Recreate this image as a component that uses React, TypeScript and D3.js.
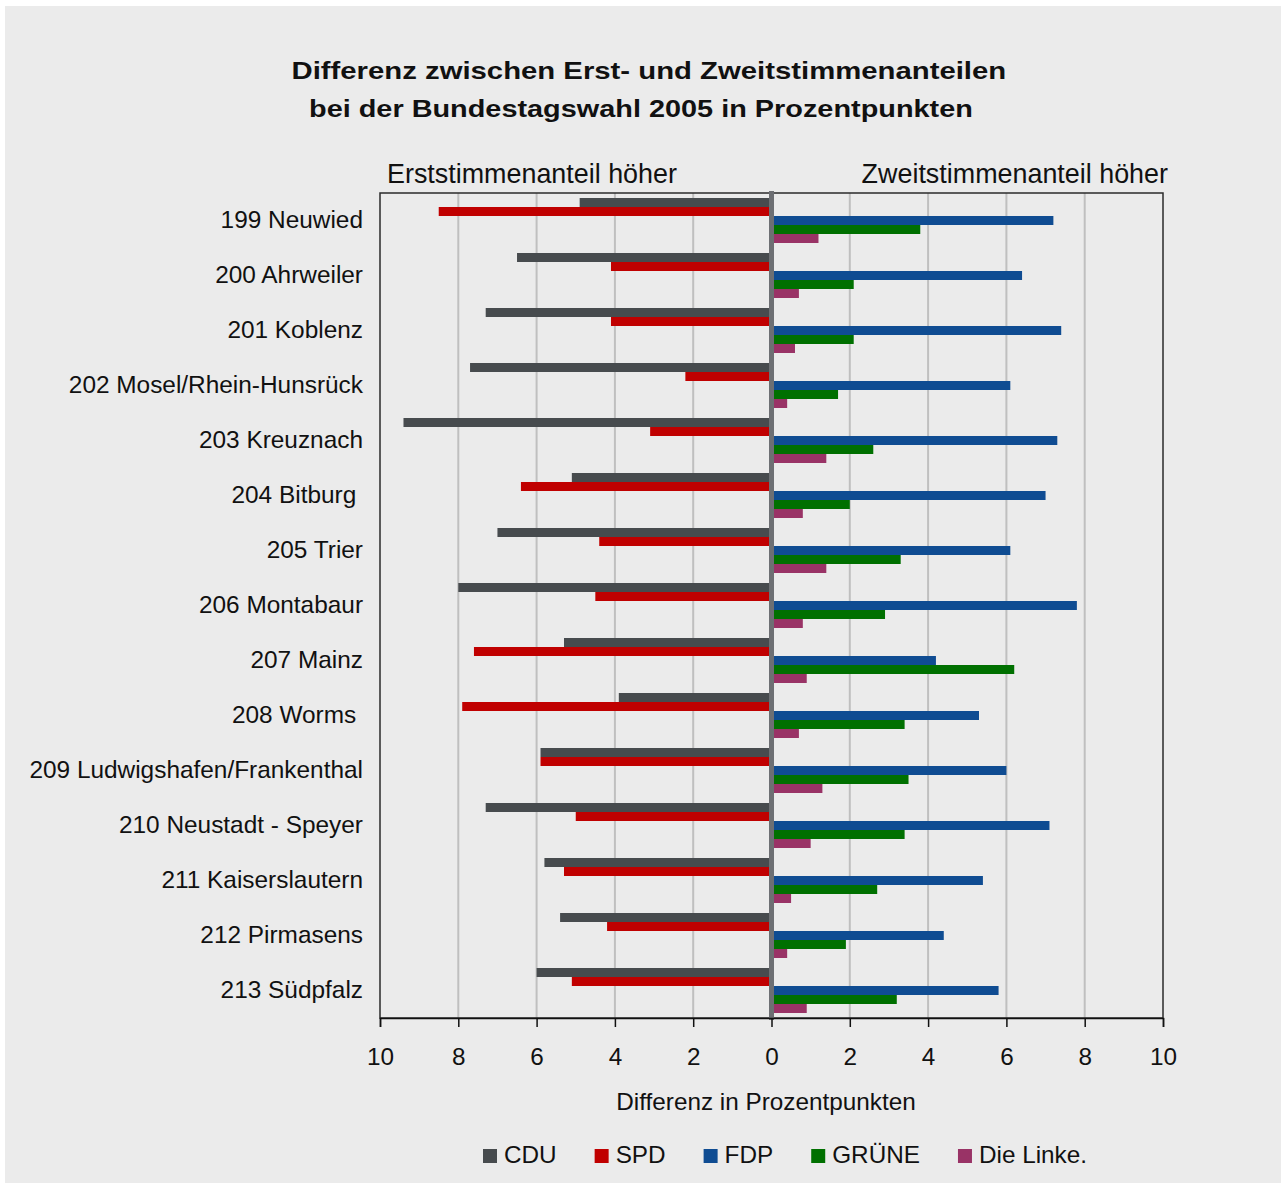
import React, { useEffect, useRef } from "react";
import * as d3 from "d3";

const districts = [
  "199 Neuwied",
  "200 Ahrweiler",
  "201 Koblenz",
  "202 Mosel/Rhein-Hunsrück",
  "203 Kreuznach",
  "204 Bitburg ",
  "205 Trier",
  "206 Montabaur",
  "207 Mainz",
  "208 Worms ",
  "209 Ludwigshafen/Frankenthal",
  "210 Neustadt - Speyer",
  "211 Kaiserslautern",
  "212 Pirmasens",
  "213 Südpfalz",
];

const parties = ["CDU", "SPD", "FDP", "GRÜNE", "Die Linke."];
const partyColors = ["#474b4e", "#c00000", "#0f4c92", "#007000", "#993366"];

// negative = Erststimmenanteil höher, positive = Zweitstimmenanteil höher
const cdu = [-4.9, -6.5, -7.3, -7.7, -9.4, -5.1, -7.0, -8.0, -5.3, -3.9, -5.9, -7.3, -5.8, -5.4, -6.0];
const spd = [-8.5, -4.1, -4.1, -2.2, -3.1, -6.4, -4.4, -4.5, -7.6, -7.9, -5.9, -5.0, -5.3, -4.2, -5.1];
const fdp = [7.2, 6.4, 7.4, 6.1, 7.3, 7.0, 6.1, 7.8, 4.2, 5.3, 6.0, 7.1, 5.4, 4.4, 5.8];
const gruene = [3.8, 2.1, 2.1, 1.7, 2.6, 2.0, 3.3, 2.9, 6.2, 3.4, 3.5, 3.4, 2.7, 1.9, 3.2];
const linke = [1.2, 0.7, 0.6, 0.4, 1.4, 0.8, 1.4, 0.8, 0.9, 0.7, 1.3, 1.0, 0.5, 0.4, 0.9];

const seriesValues = [cdu, spd, fdp, gruene, linke];
const xTicks = [-10, -8, -6, -4, -2, 0, 2, 4, 6, 8, 10];

const titleLines = [
  "Differenz zwischen Erst- und Zweitstimmenanteilen",
  "bei der Bundestagswahl 2005 in Prozentpunkten",
];

const FONT = "'Liberation Sans', Arial, Helvetica, sans-serif";

export default function App() {
  const ref = useRef<SVGSVGElement | null>(null);

  useEffect(() => {
    const svg = d3.select(ref.current);
    svg.selectAll("*").remove();

    const W = 1286;
    const H = 1187;
    const left = 380;
    const right = 1163;
    const top = 193;
    const bottom = 1018;

    svg.append("rect").attr("x", 0).attr("y", 0).attr("width", W).attr("height", H).attr("fill", "#ffffff");
    svg.append("rect").attr("x", 5).attr("y", 6).attr("width", 1276).attr("height", 1177).attr("fill", "#ebebeb");

    const x = d3.scaleLinear().domain([-10, 10]).range([left, right]);
    const y = d3.scaleBand<string>().domain(districts).range([top, bottom]).paddingInner(10 / 55).paddingOuter(5 / 55);
    const ys = d3.scaleBand<string>().domain(parties).range([0, y.bandwidth()]);

    // title (horizontally stretched like the original)
    const tpos = [
      { x: 291.5, y: 78.5, len: 715 },
      { x: 309, y: 116.5, len: 664 },
    ];
    titleLines.forEach((t, i) => {
      const el = svg
        .append("text")
        .attr("x", 0)
        .attr("y", 0)
        .attr("font-family", FONT)
        .attr("font-weight", "bold")
        .attr("font-size", 24.5)
        .attr("fill", "#111")
        .text(t);
      const w = (el.node() as SVGTextElement).getComputedTextLength();
      const sx = w > 0 ? tpos[i].len / w : 1;
      el.attr("transform", `translate(${tpos[i].x},${tpos[i].y}) scale(${sx},1)`);
    });

    // headers
    svg
      .append("text")
      .attr("x", 387)
      .attr("y", 182.5)
      .attr("font-family", FONT)
      .attr("font-size", 26.9)
      .attr("fill", "#111")
      .text("Erststimmenanteil höher");
    svg
      .append("text")
      .attr("x", 1168)
      .attr("y", 182.5)
      .attr("text-anchor", "end")
      .attr("font-family", FONT)
      .attr("font-size", 26.9)
      .attr("fill", "#111")
      .text("Zweitstimmenanteil höher");

    // gridlines
    svg
      .append("g")
      .selectAll("line")
      .data(xTicks.filter((t) => t !== 0 && Math.abs(t) !== 10))
      .join("line")
      .attr("x1", (d) => x(d))
      .attr("x2", (d) => x(d))
      .attr("y1", top)
      .attr("y2", bottom)
      .attr("stroke", "#bfbfbf")
      .attr("stroke-width", 2);

    // frame
    svg
      .append("rect")
      .attr("x", left)
      .attr("y", top)
      .attr("width", right - left)
      .attr("height", bottom - top)
      .attr("fill", "none")
      .attr("stroke", "#2b2b2b")
      .attr("stroke-width", 1.5);

    // bars
    const g = svg.append("g");
    seriesValues.forEach((vals, si) => {
      g.append("g")
        .attr("fill", partyColors[si])
        .selectAll("rect")
        .data(vals.map((v, i) => ({ v, d: districts[i] })))
        .join("rect")
        .attr("x", (d) => Math.min(x(0), x(d.v)))
        .attr("width", (d) => Math.abs(x(d.v) - x(0)))
        .attr("y", (d) => (y(d.d) as number) + (ys(parties[si]) as number))
        .attr("height", ys.bandwidth());
    });

    // zero line
    svg
      .append("line")
      .attr("x1", x(0))
      .attr("x2", x(0))
      .attr("y1", top - 2)
      .attr("y2", bottom + 2)
      .attr("stroke", "#6d6f73")
      .attr("stroke-width", 5);

    // x axis
    const axis = d3
      .axisBottom(x)
      .tickValues(xTicks)
      .tickSize(9)
      .tickPadding(21)
      .tickFormat((d) => String(Math.abs(d as number)));
    const ax = svg.append("g").attr("transform", `translate(0,${bottom})`).call(axis);
    ax.select(".domain").attr("stroke", "#111").attr("stroke-width", 1.5);
    ax.selectAll(".tick line").attr("stroke", "#111").attr("stroke-width", 1.5);
    ax.selectAll(".tick text")
      .attr("font-family", FONT)
      .attr("font-size", 24.3)
      .attr("fill", "#111");

    svg
      .append("text")
      .attr("x", 766)
      .attr("y", 1110)
      .attr("text-anchor", "middle")
      .attr("font-family", FONT)
      .attr("font-size", 24.3)
      .attr("fill", "#111")
      .text("Differenz in Prozentpunkten");

    // category labels
    svg
      .append("g")
      .selectAll("text")
      .data(districts)
      .join("text")
      .attr("x", 363)
      .attr("y", (d) => (y(d) as number) + 30)
      .attr("text-anchor", "end")
      .attr("font-family", FONT)
      .attr("font-size", 24.4)
      .attr("fill", "#111")
      .style("white-space", "pre")
      .text((d) => d);

    // legend
    const lg = svg.append("g");
    let lx = 483;
    parties.forEach((p, i) => {
      lg.append("rect")
        .attr("x", lx)
        .attr("y", 1149)
        .attr("width", 14)
        .attr("height", 14)
        .attr("fill", partyColors[i]);
      const t = lg
        .append("text")
        .attr("x", lx + 21)
        .attr("y", 1163)
        .attr("font-family", FONT)
        .attr("font-size", 24.3)
        .attr("fill", "#111")
        .text(p);
      const w = (t.node() as SVGTextElement).getComputedTextLength();
      lx = lx + 21 + w + 38;
    });
  }, []);

  return (
    <svg
      ref={ref}
      width={1286}
      height={1187}
      style={{ position: "absolute", left: 0, top: 0, display: "block" }}
    />
  );
}
